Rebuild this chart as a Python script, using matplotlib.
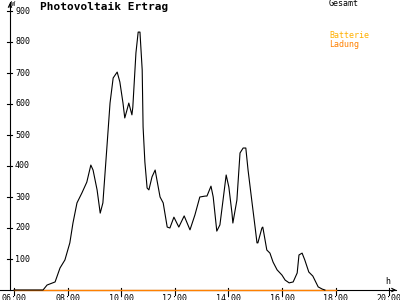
import matplotlib
matplotlib.use('Agg')
import matplotlib.pyplot as plt

# Gesamt (W) over the day
times = ['06:00', '07:05', '07:14', '07:32', '07:43', '07:54', '08:05', '08:12', '08:21',
         '08:32', '08:43', '08:52', '08:57', '09:06', '09:13', '09:19', '09:28', '09:35',
         '09:42', '09:51', '09:57', '10:04', '10:08', '10:13', '10:17', '10:24', '10:26',
         '10:33', '10:38', '10:42', '10:47', '10:49', '10:53', '10:58', '11:02', '11:09',
         '11:16', '11:20', '11:27', '11:34', '11:43', '11:49', '11:58', '12:09', '12:21',
         '12:34', '12:45', '12:56', '13:08', '13:12', '13:21', '13:26', '13:34', '13:41',
         '13:48', '13:55', '14:01', '14:08', '14:10', '14:19', '14:26', '14:33', '14:39',
         '14:44', '14:53', '15:00', '15:04', '15:06', '15:15', '15:17', '15:26', '15:33',
         '15:40', '15:49', '16:00', '16:07', '16:16', '16:25', '16:34', '16:38', '16:45',
         '16:51', '17:00', '17:09', '17:21', '17:30', '17:36']
gesamt = [0, 0, 16, 26, 71, 97, 152, 216, 281,
          313, 348, 403, 387, 323, 248, 281, 461, 603,
          684, 703, 671, 603, 555, 581, 603, 565, 590,
          765, 832, 832, 710, 526, 413, 329, 323, 365,
          387, 355, 300, 281, 203, 200, 235, 203, 239,
          194, 242, 300, 303, 303, 335, 300, 190, 210,
          290, 371, 332, 248, 216, 290, 442, 458, 458,
          387, 281, 200, 152, 152, 200, 203, 129, 119,
          90, 65, 48, 32, 23, 26, 55, 113, 119,
          97, 58, 45, 10, 3, 0]

# Batterie Ladung: flat zero
lade_times = ['06:00', '18:00']
ladung = [0, 0]

hour_ticks = [6, 8, 10, 12, 14, 16, 18, 20]
hour_labels = ['06:00', '08:00', '10:00', '12:00', '14:00', '16:00', '18:00', '20:00']
w_ticks = [100, 200, 300, 400, 500, 600, 700, 800, 900]


def hours(s):
    h, m = s.split(':')
    return int(h) + int(m) / 60


# pixel grid of the reference: 26.8 px per hour, 31 px per 100 W
PXH = 1 / 26.8
PXW = 100 / 31
x0 = 6 - 14 * PXH
y0 = -10 * PXW


def px(x, y):
    return x0 + x * PXH, y0 + (300 - y) * PXW


fig = plt.figure(figsize=(4, 3), dpi=100)
ax = fig.add_axes([0, 0, 1, 1])
ax.set_xlim(x0, x0 + 400 * PXH)
ax.set_ylim(y0, y0 + 300 * PXW)
ax.axis('off')

mono = 'DejaVu Sans Mono'
lw = 0.8

# axes with arrows
ax_x = 6 - 4 * PXH
ax.plot([x0, x0 + 396 * PXH], [0, 0], color='black', lw=lw)
ax.annotate('', xy=(x0 + 399 * PXH, 0), xytext=(x0 + 390 * PXH, 0),
            arrowprops=dict(arrowstyle='->', color='black', lw=lw, mutation_scale=6))
ax.plot([ax_x, ax_x], [0, y0 + 298 * PXW], color='black', lw=lw)
ax.annotate('', xy=(ax_x, y0 + 300 * PXW), xytext=(ax_x, y0 + 290 * PXW),
            arrowprops=dict(arrowstyle='->', color='black', lw=lw, mutation_scale=6))

for v in w_ticks:
    ax.plot([ax_x - 3 * PXH, ax_x + 2 * PXH], [v, v], color='black', lw=lw)
    ax.text(ax_x + 5 * PXH, v, str(v), fontsize=6, family=mono, ha='left', va='center')

for h, lab in zip(hour_ticks, hour_labels):
    ax.plot([h, h], [2 * PXW, -5 * PXW], color='black', lw=lw)
    ax.text(h, -4 * PXW, lab, fontsize=6, family=mono, ha='center', va='top')

# series
ax.plot([hours(t) for t in lade_times], ladung, color='#ff8000', lw=1.0)
ax.plot([hours(t) for t in times], gesamt, color='black', lw=lw)

# texts
ax.text(*px(40, 7), 'Photovoltaik Ertrag', fontsize=8, family=mono, weight='bold',
        ha='left', va='center')
ax.text(*px(11, 4), 'W', fontsize=5, family=mono, ha='left', va='center')
ax.text(*px(385, 282), 'h', fontsize=6, family=mono, ha='left', va='center')
ax.text(*px(329, 4), 'Gesamt', fontsize=6, family=mono, ha='left', va='center')
ax.text(*px(329, 36), 'Batterie', fontsize=6, family=mono, color='#ffb000',
        ha='left', va='center')
ax.text(*px(329, 44), 'Ladung', fontsize=6, family=mono, color='#ff8000',
        ha='left', va='center')

fig.savefig('out.png', dpi=100)
